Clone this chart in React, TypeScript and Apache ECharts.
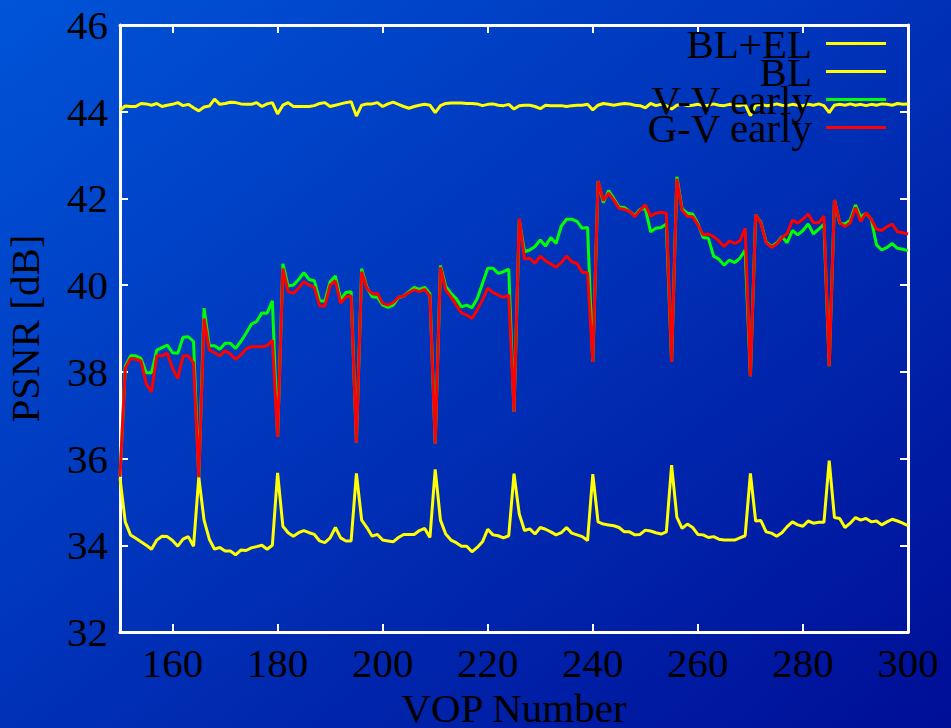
import { useEffect, useRef } from "react";
import * as echarts from "echarts";

// PSNR per VOP, frames 150..300
const FIRST_VOP = 150;

const blEl = [
  44.04, 44.13, 44.12, 44.12, 44.19, 44.18, 44.15, 44.19, 44.12, 44.15,
  44.17, 44.21, 44.14, 44.17, 44.09, 44.02, 44.11, 44.13, 44.29, 44.17,
  44.19, 44.22, 44.21, 44.18, 44.17, 44.17, 44.21, 44.12, 44.18, 44.21,
  43.95, 44.15, 44.21, 44.12, 44.12, 44.12, 44.12, 44.14, 44.19, 44.21,
  44.12, 44.15, 44.18, 44.21, 44.23, 43.9, 44.15, 44.18, 44.18, 44.21,
  44.12, 44.18, 44.22, 44.17, 44.12, 44.08, 44.12, 44.15, 44.17, 44.15,
  43.98, 44.14, 44.19, 44.2, 44.2, 44.2, 44.19, 44.19, 44.18, 44.14,
  44.17, 44.18, 44.15, 44.14, 44.17, 44.06, 44.14, 44.15, 44.15, 44.12,
  44.07, 44.15, 44.14, 44.14, 44.14, 44.12, 44.14, 44.15, 44.15, 44.17,
  44.04, 44.15, 44.19, 44.17, 44.15, 44.17, 44.19, 44.18, 44.15, 44.14,
  44.09, 44.19, 44.14, 44.17, 44.14, 44.06, 44.15, 44.17, 44.14, 44.15,
  44.17, 44.14, 44.15, 44.18, 44.15, 44.14, 44.17, 44.15, 44.14, 44.17,
  43.91, 44.15, 44.17, 44.14, 44.15, 44.18, 44.15, 44.14, 44.17, 44.15,
  44.14, 44.17, 44.15, 44.18, 44.14, 43.98, 44.15, 44.17, 44.15, 44.18,
  44.15, 44.17, 44.14, 44.17, 44.15, 44.18, 44.17, 44.15, 44.19, 44.17,
  44.18,
];

const bl = [
  35.55, 34.54, 34.24, 34.16, 34.08, 34.0, 33.91, 34.12, 34.21, 34.2,
  34.11, 33.98, 34.14, 34.2, 33.98, 35.57, 34.58, 34.14, 33.91, 33.95,
  33.87, 33.87, 33.78, 33.89, 33.88, 33.94, 33.97, 34.0, 33.91, 34.0,
  35.67, 34.44, 34.29, 34.21, 34.29, 34.34, 34.29, 34.25, 34.1, 34.06,
  34.17, 34.41, 34.17, 34.1, 34.1, 35.66, 34.58, 34.41, 34.21, 34.25,
  34.12, 34.1, 34.08, 34.18, 34.25, 34.25, 34.25, 34.34, 34.39, 34.18,
  35.75, 34.58, 34.26, 34.12, 34.06, 33.98, 33.98, 33.85, 33.95, 34.08,
  34.37, 34.24, 34.22, 34.17, 34.22, 35.65, 34.72, 34.34, 34.38, 34.26,
  34.41, 34.37, 34.31, 34.24, 34.29, 34.41, 34.28, 34.24, 34.2, 34.11,
  35.64, 34.54, 34.49, 34.47, 34.45, 34.41, 34.31, 34.31, 34.24, 34.25,
  34.35, 34.33, 34.29, 34.26, 34.31, 35.85, 34.65, 34.39, 34.49, 34.41,
  34.25, 34.24, 34.18, 34.2, 34.14, 34.12, 34.12, 34.12, 34.17, 34.22,
  35.66, 34.56, 34.57, 34.31, 34.28, 34.21, 34.29, 34.43, 34.54, 34.47,
  34.44, 34.56, 34.51, 34.53, 34.53, 35.95, 34.64, 34.62, 34.41, 34.51,
  34.64, 34.58, 34.62, 34.54, 34.56, 34.47, 34.54, 34.6, 34.56, 34.51,
  34.45,
];

const vvEarly = [
  35.58, 38.12, 38.37, 38.37, 38.31, 37.98, 37.98, 38.5, 38.56, 38.62,
  38.44, 38.43, 38.8, 38.81, 38.7, 35.57, 39.47, 38.6, 38.6, 38.52,
  38.66, 38.66, 38.54, 38.7, 38.89, 39.1, 39.16, 39.36, 39.35, 39.64,
  36.5, 40.49, 39.98, 40.0, 40.13, 40.29, 40.13, 40.1, 39.64, 39.63,
  40.08, 40.21, 39.67, 39.83, 39.85, 36.37, 40.38, 39.95, 39.73, 39.72,
  39.54, 39.49, 39.54, 39.71, 39.75, 39.85, 39.95, 39.9, 39.95, 39.8,
  36.35, 40.45, 39.98, 39.81, 39.69, 39.5, 39.54, 39.48, 39.69, 40.04,
  40.39, 40.39, 40.27, 40.31, 40.37, 37.08, 41.5, 40.77, 40.81, 40.89,
  41.04, 40.9, 41.1, 40.96, 41.36, 41.52, 41.52, 41.47, 41.31, 41.33,
  38.23, 42.4, 41.9, 42.18, 42.0, 41.8, 41.79, 41.7, 41.6, 41.75,
  41.77, 41.23, 41.31, 41.33, 41.41, 38.23, 42.5, 41.76, 41.66, 41.64,
  41.42, 41.1, 41.08, 40.67, 40.6, 40.46, 40.58, 40.52, 40.62, 40.81,
  37.9, 41.62, 41.45, 41.0, 40.89, 40.97, 41.12, 40.98, 41.26, 41.16,
  41.26, 41.41, 41.18, 41.29, 41.41, 38.13, 41.96, 41.43, 41.41, 41.5,
  41.85, 41.57, 41.66, 41.52, 40.93, 40.81, 40.87, 40.96, 40.85, 40.83,
  40.79,
];

const gvEarly = [
  35.58, 38.08, 38.31, 38.29, 38.25, 37.72, 37.54, 38.37, 38.37, 38.43,
  38.08, 37.85, 38.37, 38.37, 38.2, 35.57, 39.23, 38.5, 38.44, 38.37,
  38.49, 38.41, 38.29, 38.39, 38.53, 38.58, 38.58, 38.58, 38.6, 38.73,
  36.5, 40.38, 39.85, 39.81, 39.93, 40.08, 40.0, 39.95, 39.52, 39.52,
  40.0, 40.1, 39.58, 39.73, 39.75, 36.37, 40.31, 39.93, 39.8, 39.81,
  39.58, 39.54, 39.6, 39.72, 39.75, 39.83, 39.89, 39.85, 39.9, 39.75,
  36.35, 40.41, 39.89, 39.73, 39.54, 39.36, 39.31, 39.23, 39.43, 39.66,
  39.93, 39.83, 39.77, 39.72, 39.77, 37.08, 41.54, 40.6, 40.62, 40.5,
  40.67, 40.56, 40.49, 40.41, 40.52, 40.67, 40.54, 40.5, 40.29, 40.29,
  38.23, 42.4, 41.95, 42.12, 41.96, 41.77, 41.75, 41.7, 41.58, 41.73,
  41.85, 41.59, 41.66, 41.68, 41.66, 38.23, 42.45, 41.72, 41.59, 41.58,
  41.39, 41.16, 41.18, 41.12, 41.02, 40.89, 41.02, 40.96, 41.02, 41.31,
  37.9, 41.62, 41.43, 40.98, 40.87, 40.95, 41.1, 41.19, 41.5, 41.43,
  41.52, 41.64, 41.44, 41.44, 41.59, 38.13, 41.96, 41.44, 41.35, 41.44,
  41.79, 41.47, 41.67, 41.52, 41.29, 41.26, 41.35, 41.41, 41.23, 41.21,
  41.18,
];

const xTicks = [160, 180, 200, 220, 240, 260, 280, 300];
const seriesNames = ["BL+EL", "BL", "V-V early", "G-V early"];
const seriesColors = ["#ffff00", "#ffff00", "#00ff00", "#ff0000"];

const FONT = "'Liberation Serif', 'Times New Roman', serif";
const WHITE = "#ffffff";

const toPoints = (values: number[]) =>
  values.map((v, i) => [FIRST_VOP + i, v]);

export default function App() {
  const ref = useRef<HTMLDivElement>(null);

  useEffect(() => {
    if (!ref.current) return;
    const chart = echarts.init(ref.current, undefined, { renderer: "svg" });

    const boxLine = { show: true, onZero: false, lineStyle: { color: WHITE, width: 3 } };
    const tickStyle = { show: true, inside: true, length: 8, lineStyle: { color: WHITE, width: 2 } };
    const textBase = { color: "#000", fontFamily: FONT, fontSize: 41 };

    const allSeries = [blEl, bl, vvEarly, gvEarly].map((values, i) => ({
      name: seriesNames[i],
      type: "line" as const,
      data: toPoints(values),
      showSymbol: false,
      symbol: "none",
      silent: true,
      color: seriesColors[i],
      lineStyle: { color: seriesColors[i], width: 3 },
      z: 2 + i,
    }));

    chart.setOption({
      animation: false,
      backgroundColor: "transparent",
      grid: {
        left: 120,
        right: 43,
        top: 25,
        bottom: 96,
        containLabel: false,
        outerBoundsMode: "none",
      },
      legend: {
        data: seriesNames,
        orient: "vertical",
        align: "right",
        right: 65,
        top: 23,
        padding: 0,
        itemGap: -13,
        itemWidth: 60,
        itemHeight: 3,
        icon: "rect",
        selectedMode: false,
        textStyle: { ...textBase, padding: [0, 9, 0, 0] },
      },
      xAxis: [
        {
          type: "value",
          position: "bottom",
          min: 150,
          max: 300,
          axisLine: boxLine,
          axisTick: { ...tickStyle, customValues: xTicks },
          axisLabel: { ...textBase, customValues: xTicks, margin: 10 },
          splitLine: { show: false },
          name: "VOP Number",
          nameLocation: "middle",
          nameGap: 57,
          nameTextStyle: { ...textBase, lineHeight: 34 },
        },
        {
          type: "value",
          position: "top",
          min: 150,
          max: 300,
          axisLine: boxLine,
          axisTick: { ...tickStyle, customValues: xTicks },
          axisLabel: { show: false },
          splitLine: { show: false },
        },
      ],
      yAxis: [
        {
          type: "value",
          position: "left",
          min: 32,
          max: 46,
          interval: 2,
          axisLine: boxLine,
          axisTick: tickStyle,
          axisLabel: { ...textBase, margin: 12 },
          splitLine: { show: false },
          name: "PSNR [dB]",
          nameLocation: "middle",
          nameRotate: 90,
          nameGap: 75,
          nameTextStyle: textBase,
        },
        {
          type: "value",
          position: "right",
          min: 32,
          max: 46,
          interval: 2,
          axisLine: boxLine,
          axisTick: tickStyle,
          axisLabel: { show: false },
          splitLine: { show: false },
        },
      ],
      series: allSeries,
    });

    return () => chart.dispose();
  }, []);

  return (
    <div
      ref={ref}
      style={{
        position: "fixed",
        left: 0,
        top: 0,
        width: 951,
        height: 728,
        background: "linear-gradient(to bottom right, #0054d8, #000e96)",
      }}
    />
  );
}
